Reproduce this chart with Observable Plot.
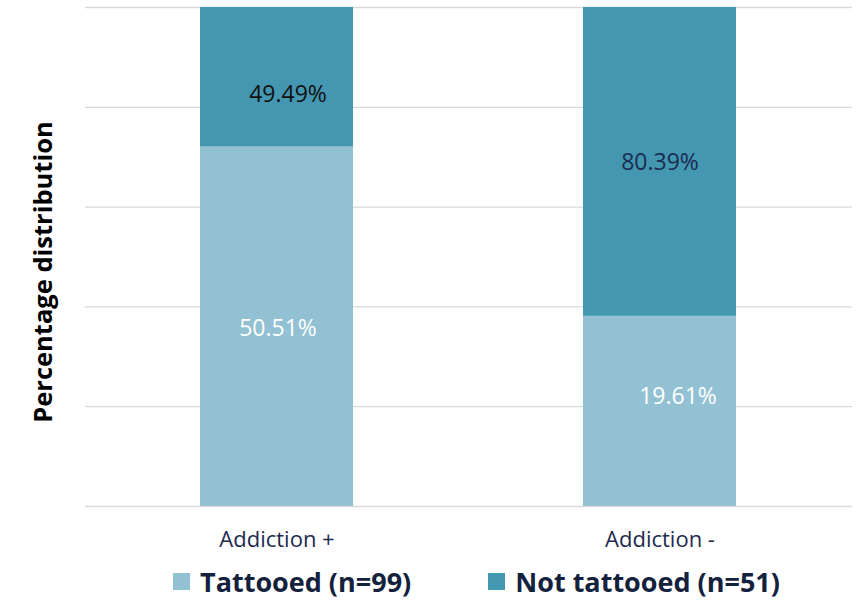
<!DOCTYPE html>
<html>
<head>
<meta charset="utf-8">
<script src="https://cdn.jsdelivr.net/npm/d3@7"></script>
<script src="https://cdn.jsdelivr.net/npm/@observablehq/plot@0.6"></script>
<style>
  html, body { margin: 0; padding: 0; background: #fff; }
  body { width: 864px; height: 605px; position: relative; overflow: hidden; font-family: "Open Sans", sans-serif; }
  #ylabel { position: absolute; left: 42px; top: 272px; transform: translate(-50%, -50%) rotate(-90deg); white-space: nowrap;
    font-weight: bold; font-size: 25.5px; color: #000; }
  #legend { position: absolute; left: 0; top: 561px; width: 864px; height: 40px; display: flex; justify-content: flex-start; align-items: center;
    gap: 77px; font-weight: bold; font-size: 27px; color: #14213d; padding-left: 173px; box-sizing: border-box; }
  .item { display: flex; align-items: center; gap: 10px; }
  .sw { width: 17px; height: 17px; display: inline-block; }
</style>
</head>
<body>
<div id="chart"></div>
<div id="ylabel">Percentage distribution</div>
<div id="legend"></div>
<script>
const categories = ["Addiction +", "Addiction -"];
const series = ["Tattooed (n=99)", "Not tattooed (n=51)"];
const tattooed = [50.51, 49.49];
const notTattooed = [19.61, 80.39];
const tattooedLabels = ["50.51%", "19.61%"];
const notTattooedLabels = ["49.49%", "80.39%"];
const colors = ["#92c1d3", "#4397b0"];
const yTicks = [0, 0.2, 0.4, 0.6, 0.8, 1];

const data = categories.flatMap((c, i) => [
  {cat: c, series: series[0], value: tattooed[i], label: tattooedLabels[i], idx: i},
  {cat: c, series: series[1], value: notTattooed[i], label: notTattooedLabels[i], idx: i}
]);

const stack = (opts) => Plot.stackY({offset: "normalize", x: "cat", y: "value", ...opts});
// show only the label of one segment, keeping the whole stack for positioning
const only = (s, i) => (d) => (d.series === s && d.idx === i ? d.label : null);

const chart = Plot.plot({
  width: 864,
  height: 560,
  marginTop: 7,
  marginBottom: 54,
  marginLeft: 85,
  marginRight: 12,
  style: {fontFamily: "Open Sans, sans-serif", background: "#fff"},
  x: {domain: categories, paddingInner: 0.6, paddingOuter: 0.3, label: null},
  y: {domain: [0, 1], axis: null},
  color: {domain: series, range: colors},
  marks: [
    Plot.gridY(yTicks, {stroke: "#d9d9d9", strokeOpacity: 1, strokeWidth: 1.3}),
    Plot.barY(data, stack({fill: "series"})),
    Plot.text(data, stack({text: only(series[0], 0), fill: "#fff", fontSize: 23, dx: 1, dy: 2})),
    Plot.text(data, stack({text: only(series[0], 1), fill: "#fff", fontSize: 23, dx: 18, dy: -15})),
    Plot.text(data, stack({text: only(series[1], 0), fill: "#111", fontSize: 23, dx: 11, dy: 17})),
    Plot.text(data, stack({text: only(series[1], 1), fill: "#1c2b4f", fontSize: 23, dx: 0, dy: 1})),
    Plot.axisX({tickSize: 0, tickPadding: 25, fontSize: 22, fill: "#1c2b4f", label: null})
  ]
});
document.getElementById("chart").appendChild(chart);

const legend = document.getElementById("legend");
series.forEach((s, i) => {
  const item = document.createElement("div");
  item.className = "item";
  const sw = document.createElement("span");
  sw.className = "sw";
  sw.style.background = colors[i];
  const t = document.createElement("span");
  t.textContent = s;
  item.appendChild(sw);
  item.appendChild(t);
  legend.appendChild(item);
});
</script>
</body>
</html>
